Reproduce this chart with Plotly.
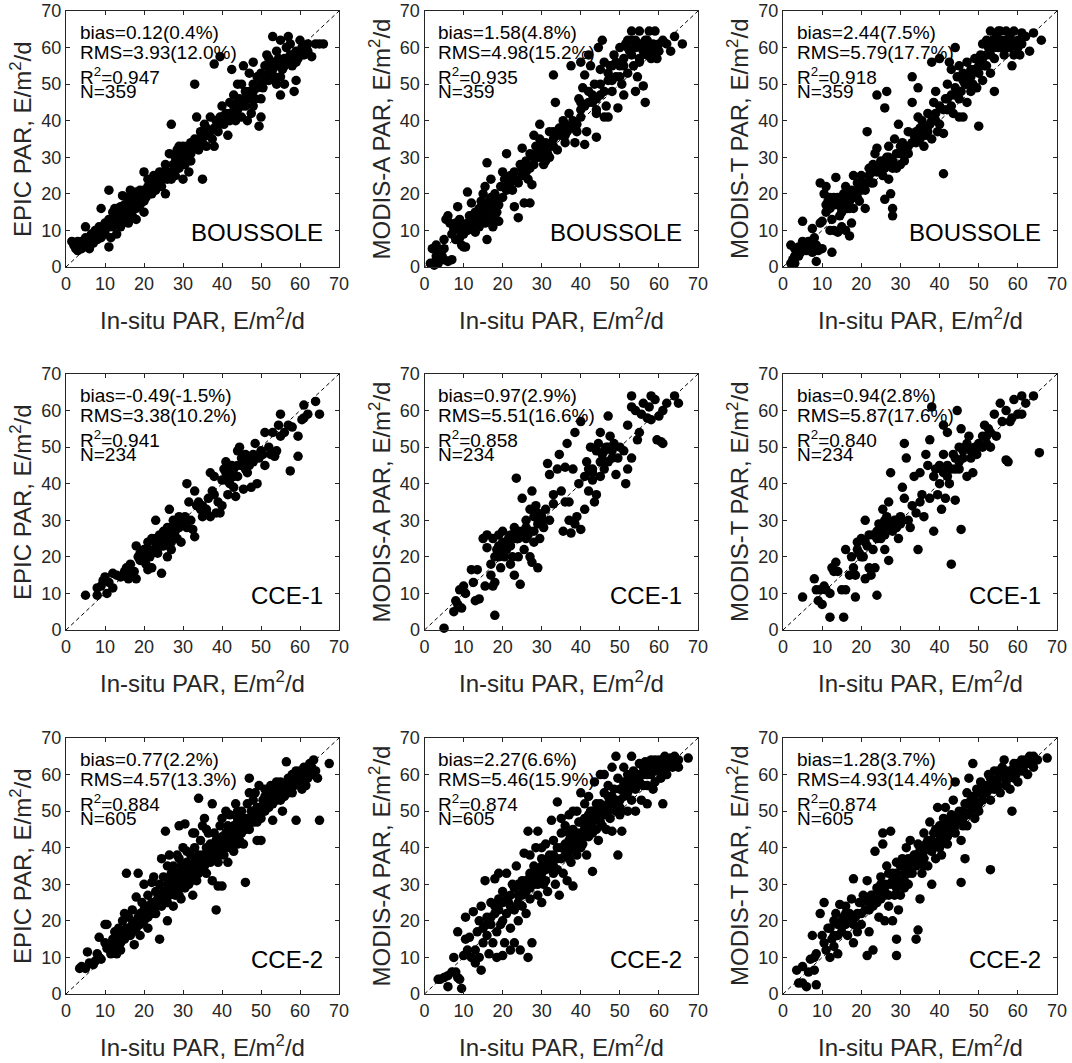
import plotly.graph_objects as go

# ---------------- data ----------------
sites = ["BOUSSOLE", "CCE-1", "CCE-2"]
products = ["EPIC", "MODIS-A", "MODIS-T"]

bias_text = [["0.12(0.4%)", "1.58(4.8%)", "2.44(7.5%)"],
             ["-0.49(-1.5%)", "0.97(2.9%)", "0.94(2.8%)"],
             ["0.77(2.2%)", "2.27(6.6%)", "1.28(3.7%)"]]
rms_text = [["3.93(12.0%)", "4.98(15.2%)", "5.79(17.7%)"],
            ["3.38(10.2%)", "5.51(16.6%)", "5.87(17.6%)"],
            ["4.57(13.3%)", "5.46(15.9%)", "4.93(14.4%)"]]
r2_text = [["0.947", "0.935", "0.918"],
           ["0.941", "0.858", "0.840"],
           ["0.884", "0.874", "0.874"]]
n_text = ["359", "234", "605"]

tick_vals = [0, 10, 20, 30, 40, 50, 60, 70]

EPIC_BOUSSOLE = [(1.5,7),(2,6),(2.5,5),(3,7),(3,4.5),(3.5,6),(4,7),(4.5,5.5),(5,8),(5,11),(5.5,6),(6,5),(6,7),(6.5,9),(7,6.5),(7.5,10),(8,7.5),(8,9.5),(8.5,11),(9,8),(9,16),(9.5,10),(10,9),(10,12),(10.5,11),(11,5.5),(11,21),(11,13),(11.5,8),(12,15),(12,11),(12.5,16),(13,12),(13,9),(13.5,14),(14,11),(14,16.5),(14.5,19.5),(15,13),(15,17),(15.5,15),(16,19),(16,12),(16.5,21),(17,14),(17,18),(17.5,20),(18,16),(18,13),(18.5,20),(19,17),(19.5,19),(20,15),(20,26),(20.5,19),(21,22),(21.5,20),(22,23),(22.5,25),(23,21),(23.5,24),(24,23),(24.5,22),(25,24),(25.5,20),(25.5,28),(26,26),(26.5,31),(27,24),(27,39),(27.5,28),(28,30),(28,25),(28.5,32),(29,27),(29.5,30),(30,33),(30,24),(30.5,28),(31,31),(31.5,26),(32,34),(32,29),(33,35),(33,50),(33.5,41),(34,32),(34.5,37),(35,24),(35,35.5),(35.5,39),(36,33),(36.5,36),(37,41),(37.5,35),(38,55.5),(38,33),(38.5,40),(39,37),(39.5,57.5),(39.5,41),(40,44),(40.5,39),(41,42),(41.5,36),(42,45),(42,40),(42.5,54),(43,44),(43.5,40),(44,43),(44.5,46),(45,41),(45,50),(45.5,55),(46,44),(46.5,40),(47,48),(47,53),(47.5,42),(48,56),(48,50),(48.5,46),(49,52),(49.5,38.5),(50,41),(50,53),(50.5,49),(51,55),(51.5,58),(52,51),(52.5,54),(53,56),(53,63),(53.5,52),(54,59),(54,50),(54.5,57),(55,47),(55,62),(55.5,54),(56,57),(56,50),(56.5,60),(57,56),(57,63),(57.5,58),(58,55),(58.5,48),(59,51),(59,59),(59.5,57),(60,62),(61,58),(62,61),(63,57.5),(64,61),(65,61),(66,61),(60.5,60),(57.5,61),(52,57),(48,44),(44,50),(43,47),(36,38),(32,31),(29,33),(24,26),(22,20),(19,21),(14,14),(12,13),(8,8),
                 (3,6),(4,5),(5,6.5),(6,8),(7,8),(9,10.5),(10,10),(11,11),(12,12),(13,13),(13,15),(14,13),(15,15),(16,15),(16,17),(17,16),(17,20),(18,18),(18,20.5),(19,18),(20,18),(20,21),(21,20),(21,24),(22,21),(23,23),(24,24),(25,26),(26,24),(27,26),(28,27),(29,29),(29,31),(30,30),(31,29),(31,33),(32,32),(33,33),(34,35),(35,34),(36,36),(37,37),(38,38),(39,39),(40,41),(41,40),(42,42),(43,42),(44,45),(45,44),(46,46),(47,46),(48,48),(49,49),(50,50),(51,51),(52,53),(53,54),(54,55),(55,56),(56,55),(57,57),(58,58),(59,56),(60,58),(61,60),(62,59),(55,52),(52,55),(50,46),(46,48)]

MODISA_BOUSSOLE = [(1.5,1),(2,5),(2.5,0.5),(3,2),(3,6),(3.5,1),(4,2.5),(4.5,3),(5,7.5),(5,2),(5.5,13),(6,14),(6,1.5),(7,2),(6.5,12),(7,9),(7.5,10.5),(8,12),(8.5,16.5),(9,8),(9,13),(9.5,6),(10,5.5),(10,11),(10.5,5.5),(11,20.5),(11,10),(11.5,14),(12,12.5),(12,17.5),(12.5,11),(13,15),(13,9.5),(13.5,13),(14,16),(14,11),(14.5,18),(15,14),(15,20),(15.5,22),(15.5,12),(16,28.5),(16,7.5),(16,16),(16.5,18),(17,13),(17,24),(17.5,11),(18,16),(18,20),(18.5,15),(19,12.5),(19.5,22),(20,19),(20,26),(20.5,24),(21,31),(21,21),(21.5,22),(22,25),(22.5,21),(23,26),(23,16.5),(24,13.5),(24,23),(24.5,28),(25,32.5),(25,25),(25.5,17.5),(26,29),(26.5,24),(27,17.5),(27,31),(27.5,22.5),(28,36),(28,28),(28.5,33),(29,30),(29.5,35),(29.5,39),(30,32),(30.5,28),(31,34),(31.5,31),(32,37),(32,30),(33,35),(33,52.5),(33.5,45),(34,32),(34.5,38),(35,36),(35.5,40),(36,34),(36.5,37),(37,42),(37.5,55),(38,38),(38.5,34),(39,37),(39.5,46),(40,43),(40,56),(40.5,49),(41,33.5),(41,52.5),(41.5,37),(42,45),(42,58),(42.5,55),(43,45),(43.5,50),(44,35.5),(44,42),(44.5,60),(45,47),(45,54),(45.5,62),(46,41),(46.5,44),(47,51),(47,41),(47.5,55),(48,48),(48.5,58),(49,52),(49.5,43.5),(50,60),(50,55),(50.5,50),(51,57),(51.5,61),(52,53),(52.5,59),(53,62),(53,64.5),(53.5,55),(54,48),(54,60),(54.5,52),(55,64.5),(55,57),(55.5,60),(56,49.5),(56.5,45),(56.5,62),(57,58),(57.5,64.5),(58,57),(58.5,61),(59,60.5),(59,64.5),(59.5,57),(60,59),(61,62),(62,61),(63,59),(64,63),(66,61),(46,56),(51,47),(44,43),(40,41),(36,39),(31,29),(26,26),(22,23),(18,18),(14,14),(8,7.5),
                   (3,3),(4,4),(5,5),(9,10),(10,9),(11,12),(12,14),(13,12),(14,13),(15,15),(15,17),(16,14),(17,16),(17,19),(18,14),(19,17),(20,22),(21,23),(22,24),(23,24),(25,27),(26,28),(27,27),(28,30),(29,32),(30,30),(30,34),(31,32),(32,33),(33,33),(33,37),(34,36),(35,38),(36,36),(37,38),(38,40),(39,39),(40,45),(41,44),(42,48),(43,47),(44,46),(45,50),(46,48),(47,53),(48,51),(48,55),(49,56),(50,52),(51,55),(52,60),(53,58),(54,62),(55,61),(56,59),(57,60),(58,59),(59,58),(60,61),(52,62),(55,56),(57,62)]

MODIST_BOUSSOLE = [(2,6),(2,1),(2.5,2),(3,5),(3,1),(3.5,4),(4,5.5),(4.5,4),(5,12.5),(5,7),(5.5,6),(6,4.5),(6.5,7),(7,6),(7.5,10.5),(7.5,4),(8,5),(8,8),(8.5,1.5),(8.5,6),(9,4.5),(9.5,23),(9.5,12),(10,12.5),(10,5),(10.5,20),(11,22),(11,15),(11.5,18),(12,16),(12,10),(12.5,4),(12.5,13),(13,19),(13,10),(13.5,24.5),(14,17),(14,9.5),(14.5,14),(15,18),(15,11),(15.5,20),(16,10),(16,22),(16.5,16),(17,18),(17,8.5),(17.5,21),(17.5,12),(18,25),(18,16),(18.5,20),(19,23),(19.5,18),(20,25),(20,21),(21,23),(21,16),(21.5,37),(22,27),(22.5,23),(23,26),(23.5,31),(24,47),(24,32.5),(24.5,28),(25,26),(25.5,25),(26,43.5),(26,18.5),(26.5,48),(26.5,30),(27,33),(27,24),(27.5,20),(28,14),(28,16),(28,29),(28.5,35),(29,27),(29.5,39),(30,31),(30,28),(30.5,34),(31,29),(31.5,33),(32,37),(32,31),(33,45),(33,52),(33.5,36),(34,34),(34.5,49),(34.5,41),(35,38),(35.5,40),(36,33),(36.5,36),(37,42),(37.5,39),(38,56),(38,35),(38.5,45),(39,48),(39.5,37),(40,57),(40,44),(41,36.5),(41,25.5),(41.5,46),(42,50),(42,43),(42.5,56),(43,54),(43.5,42),(44,47),(44,60),(44.5,52),(45,41),(45,55),(45.5,48),(46,53),(46,41),(46.5,50),(47,56),(47,45),(47.5,52),(48,54),(48.5,50),(49,57),(49.5,49),(50,38.5),(50,53),(50.5,58),(51,61),(51.5,55),(52,58),(52.5,60),(53,64.5),(53,53),(53.5,62),(54,48),(54,57),(54.5,63),(55,60),(55.5,64.5),(56,62),(56.5,58),(57,64.5),(57.5,60),(58,63),(58.5,55),(59,61),(59,64.5),(60,62),(60.5,58),(61,64),(62,63),(63,59),(64,64),(66,62),(51,51),(48,48),(43,44),(39,40),(35,35),(31,32),(27,28),(23,23),(19,19),(15,16),
                   (3,3),(4,3),(5,5),(6,6),(7,7),(11,17),(12,19),(13,17),(14,19),(15,15),(16,18),(16,20),(17,16),(18,19),(19,21),(20,23),(21,21),(22,25),(23,28),(24,26),(25,29),(26,27),(27,30),(28,27),(29,31),(30,33),(31,31),(32,33),(33,34),(34,37),(35,36),(36,38),(37,37),(38,40),(39,42),(40,39),(41,43),(42,46),(43,47),(44,49),(45,46),(46,51),(47,50),(48,52),(49,54),(50,55),(51,57),(52,55),(53,58),(54,60),(55,62),(56,60),(57,62),(58,60),(59,58),(60,60),(61,61),(53,61),(55,64.5),(52,62)]

EPIC_CCE1 = [(5,9.5),(8,9.5),(8,11.5),(9,12),(9.5,13.5),(10,14.5),(10.5,10),(11,13),(12,11.5),(12,15.5),(13,15),(14,14.5),(15,16),(15.5,17),(16,14),(16.5,18),(17,15),(17.5,16),(18,23),(18,14),(18.5,20),(19,21),(19.5,19),(20,22),(20.5,18),(21,16.5),(21,24),(21.5,20),(22,25),(22,17),(22.5,22),(23,30),(23,24),(23.5,21),(24,26),(24.5,15.5),(24.5,23),(25,27),(25.5,25),(26,28),(26,20),(26.5,33),(27,26),(27,22),(27.5,30),(28,28),(28.5,25),(29,31),(29.5,24),(30,29),(30.5,31),(31,40),(31,28),(31.5,35),(32,30),(32.5,27.5),(33,38),(33,25.5),(33.5,34),(34,35),(34.5,33),(35,31),(36,32),(36.5,36),(37,43),(37,31),(37.5,38),(38,42),(38.5,32),(39,35),(39.5,32),(40,34),(40.5,44),(41,46),(41,41),(41.5,37),(42,40),(42.5,45),(43,44),(43,39),(43.5,36.5),(44,49),(44,42),(44.5,50),(45,45),(45.5,38.5),(46,46),(46.5,43),(47,47),(47.5,39),(48,48),(48.5,51),(49,40),(49.5,47),(50,49),(50.5,48),(51,54),(51,45),(52,50),(52.5,48),(53,54),(53.5,47.5),(54,49),(54.5,56),(55,53),(55,59),(56,54),(57,56),(57.5,43.5),(58,55.5),(59.5,53),(59.5,47.5),(60.5,57.5),(61,61.5),(61,58),(62,59),(64,62.5),(65,59),(38,37),(29,28),(20,20),(46,44),(41,43),
             (19,19),(20,21),(21,22),(22,21),(23,25),(24,24),(25,26),(26,26),(27,28),(28,27),(29,29),(30,30),(23,22),(25,23),(27,24),(41,44),(42,43),(43,42),(44,45),(45,47),(46,48),(47,45),(48,46),(36,33),(35,34),(40,41)]

MODISA_CCE1 = [(5,0.5),(7.5,5),(8,8),(8.5,7),(9,11),(9.5,6),(10,12),(10.5,10),(12,16.5),(12.5,13),(13,8),(13.5,16.5),(14,8.5),(15,25),(15.5,12),(16,26),(16,22.5),(17,18),(17,15),(17.5,12),(17.5,25),(18,4),(18,13),(18,20),(18.5,22),(19,26),(19,20),(19.5,17),(20,27),(20,22),(20.5,20),(21,24),(21.5,25),(22,18),(22,23),(22.5,20),(23,15),(23,28),(23.5,41.5),(24,25),(24,20),(24.5,12.5),(25,27),(25,36),(25.5,22),(26,30),(26,25),(26.5,26),(27,33),(27,20),(27.5,18.5),(27.5,38),(28,31),(28,24),(28.5,34),(29,29),(29,17),(29.5,25),(30,31),(30.5,28),(31,33),(31.5,45.5),(32,30),(32,42.5),(33,37),(33,34.5),(34,44),(34.5,48),(35,38),(35.5,27),(36,44.5),(36.5,51),(37,30),(37,35),(37.5,26.5),(38,44),(38.5,54),(38.5,29),(39,31),(39.5,40),(40,57),(40,27.5),(41,33),(41,42),(41.5,46),(42,38),(42.5,50),(43,44),(43.5,35),(44,37),(44.5,51),(45,42),(45,54),(45.5,48),(46,44),(46.5,50),(47,58.5),(47,46),(47.5,53),(48,49),(48.5,51),(49,42.5),(49.5,47),(50,50),(51,49),(51.5,40),(52,44),(52,56),(53,47),(53,61),(53,64),(54,60),(54.5,52),(55,54),(55.5,59),(56,62),(57,58),(57.5,61),(58,64),(58,57.5),(59,63),(59.5,52),(60,58.5),(60.5,51.5),(61,51),(61,60),(62,62),(64,64),(65,62),(43,43),(36,35),(30,29),(26,26),(20,21),(46,46),
               (19,23),(21,22),(23,25),(24,27),(25,26),(26,28),(27,27),(28,27),(29,32),(30,30),(22,26),(20,24),(44,49),(45,46),(46,49),(47,50),(48,47),(42,44),(43,41)]

MODIST_CCE1 = [(5,9),(8,14),(8.5,11),(9,8),(9.5,11),(10,7),(10.5,12),(11,11),(12,10),(12,3.5),(12.5,17),(13,16),(13.5,18.5),(14,16),(15,11),(15.5,3.5),(16,11),(16,22),(17,15),(17.5,20),(18,17),(18.5,9),(18.5,15),(19,24),(19.5,21),(20,25),(20.5,20),(21,30),(21,14),(21.5,23),(22,26),(22,17),(22.5,15),(23,22),(23.5,17),(24,9.5),(24,25),(24.5,29),(25,26),(25.5,33),(26,28),(26,22),(26.5,31),(27,35),(27,19),(27.5,43),(28,27),(28.5,30),(29,28),(29.5,25),(30,31),(30.5,39),(31,36),(31,51),(31.5,47),(32,30),(32.5,28),(33,34),(33.5,42),(34,32),(34.5,22),(35,43),(35.5,37),(36,31),(36.5,48),(37,45),(37.5,36),(37.5,52),(38,61),(38.5,27),(38.5,42),(39,44),(39.5,37),(40,45),(40.5,33),(41,56),(41,48),(41.5,36),(42,42),(42,54),(42.5,40),(43,18),(43.5,48),(44,35.5),(44,44),(44.5,60),(45,50),(45.5,27.5),(45.5,55),(46,47),(46.5,50),(47,42),(47.5,53),(48,47),(48.5,43),(49,50),(49.5,48),(50,51),(51,50),(51.5,56),(52,53),(52.5,55),(53,50),(54,59),(54.5,53),(55.5,62),(56,57),(57,46.5),(57.5,46),(57,60),(58,57),(58.5,58),(59,63),(60,59),(61,64),(61,59),(62,62),(64,64),(65.5,48.5),(45,44),(40,40),(35,35),(30,30),(25,25),(20,20),
               (19,22),(21,24),(23,26),(24,27),(25,28),(26,26),(27,29),(28,29),(29,30),(30,29),(26,30),(41,43),(42,45),(43,44),(44,47),(45,46),(46,49),(47,51),(48,49),(50,50),(51,53),(52,51),(53,54)]

EPIC_CCE2 = [(3.5,7),(4,7.5),(5,7),(5.5,11.5),(6,8.5),(7,8),(7.5,9),(8,11),(8.5,10),(8.5,15.5),(9,9.5),(10,14),(10,19),(10.5,19),(10.5,12.5),(11,13),(11.5,11),(12,15),(12,12.5),(12.5,17),(13,14),(13,11),(13.5,18),(14,16),(14,12),(14.5,20),(15,15),(15,22),(15.5,33),(15.5,18),(16,21),(16.5,16),(17,19),(17,23),(17.5,13.5),(18,26.5),(18,18),(18.5,33),(18.5,21),(19,22),(19,16),(19.5,25),(20,30),(20,20),(20.5,24),(21,27),(21,18),(21.5,22),(22,30.5),(22,25),(22.5,32),(23,28),(23,22),(23.5,26),(24,15),(24,30),(24.5,24),(24.5,37),(25,28),(25,32),(25.5,44.5),(25.5,25),(26,30),(26,20),(26.5,38),(26.5,27),(27,33),(27,29),(27.5,35),(27.5,24),(28,31),(28,27),(28.5,38),(28.5,33),(29,29),(29,46),(29.5,35),(29.5,26),(30,32),(30,40),(30.5,46.5),(30.5,29),(31,34),(31,36),(31.5,30),(32,38),(32,33),(32.5,44),(32.5,27),(33,35),(33,40),(33.5,31),(34,53.5),(34,37),(34,33),(34.5,42),(35,46),(35,38),(35.5,48),(35.5,35),(36,40),(36,33),(36.5,44),(37,37),(37,41),(37.5,52),(37.5,31),(38,38),(38,44),(38.5,23),(38.5,42),(39,29.5),(39,36),(39.5,46),(39.5,40),(40,29.5),(40,43),(40.5,38),(41,50),(41,40),(41.5,46),(41.5,36),(42,44),(42,49),(42.5,41),(43,46),(43,39),(43.5,52),(44,44),(44,48),(44.5,42),(45,50),(45,46),(45.5,41),(46,30.5),(46,48),(46.5,52),(47,45),(47,59),(47.5,50),(48,53),(48,47),(48.5,55),(49,42),(49,51),(49.5,57),(50,48),(50,42),(50.5,53),(51,56),(51,50),(52,54),(52,51),(52.5,57),(53,52),(53,47.5),(53.5,56),(54,58),(54,53),(55,55),(55,58),(55.5,50),(56,57),(56.5,63.5),(57,59),(57.5,56),(58,60),(58.5,57),(59,47.5),(59,61),(59.5,58),(60,60),(60.5,56),(61,62),(61,59),(61.5,57),(62,61),(62.5,63),(63,60),(63.5,64),(64,61),(64.5,59),(65,47.5),(67.5,63),(27,30),(33,33),(36,36),(40,40),(44,45),(48,50),(23,24),(19,20),(16,16),(12,13),(20,21),(21,23),(22,22),(24,26),(25,25),(26,27),(27,28),(28,29),(29,31),(30,30),(31,32),(32,31),(33,36),(34,35),(35,36),(36,38),(37,39),(38,40),(39,41),(40,39),(41,42),(42,42),(43,43),(44,41),(45,44),(46,45),(47,48),(49,47),(51,52),(53,55),(57,55),(58,58),(60,58),(62,59),(56,54),(54,55),
             (14,14),(15,17),(16,18),(17,17),(18,20),(19,19),(20,23),(21,21),(22,24),(23,25),(24,27),(25,27),(26,25),(27,31),(28,33),(29,27),(30,34),(31,30),(32,35),(33,32),(34,38),(35,34),(36,37),(37,36),(38,41),(39,38),(40,42),(41,44),(42,40),(43,45),(44,47),(45,48),(46,46),(47,47),(48,49),(49,50),(50,51),(51,54),(52,52),(53,53),(54,56),(55,53),(56,56),(57,58),(58,55),(59,59),(60,61),(61,60),(62,62),(63,62),(29,37),(31,39),(26,35),(33,44),(36,45),(40,48),(44,50),(47,55)]

MODISA_CCE2 = [(3.5,4),(4,4),(5,4.5),(6,2),(6,5),(7,6),(7.5,10),(8,6),(8.5,17),(8.5,4.5),(9,4),(9.5,1.5),(10,10.5),(10.5,21),(10.5,15),(11,12),(11.5,15.5),(12,10),(12.5,22.5),(13,8.5),(13,12),(13.5,17),(14,10),(14,20),(14.5,6.5),(14.5,24),(15,14),(15,18),(15.5,31),(16,21),(16,16),(16.5,11),(17,25),(17,19),(17.5,14),(18,31.5),(18,22),(18.5,10),(18.5,17),(19,26),(19,33),(19.5,19),(20,10.5),(20,28),(20.5,14),(21,22),(21,33),(21.5,25),(22,12),(22,18),(22.5,30),(23,23),(23,14),(23.5,35),(24,27),(24,20),(24.5,12),(25,24),(25,31),(25.5,38.5),(26,28),(26,22),(26.5,44.5),(26.5,10),(27,33),(27,26),(27.5,14),(28,30),(28,35),(28.5,40),(29,27),(29,44.5),(29.5,32),(30,25),(30,37),(30.5,30),(31,41),(31,34),(31.5,28),(32,38),(32.5,47.5),(33,33),(33,42),(33.5,30),(34,52.5),(34,37),(34.5,27),(35,44),(35,40),(35.5,33),(36,46),(36,38),(36.5,31),(37,42),(37,49),(37.5,36),(38,29.5),(38,45),(38.5,40),(39,50),(39,38),(39.5,47),(40,44),(40,55),(40.5,41),(41,48),(41,52),(41.5,38),(42,54),(42,46),(42.5,50),(43,33.5),(43,44),(43.5,58),(44,48),(44,52),(44.5,42),(45,60),(45,50),(45.5,46),(46,55),(46,60),(46.5,45),(47,52),(47,57),(47.5,48),(48,62),(48,44.5),(48.5,56),(49,65),(49,50),(49.5,38),(49.5,59),(50,53),(50.5,44.5),(51,57),(51,62),(52,55),(52,50),(52.5,59),(53,65),(53,53),(53.5,61),(54,56),(54,50),(55,58),(55,63),(55.5,53),(56,60),(56.5,63.5),(57,57),(57,52),(57.5,62),(58,60),(58.5,56),(59,64),(59,58),(59.5,61),(60,63),(60.5,59),(61,52),(61,62),(61.5,65),(62,60),(62.5,63),(63,64.5),(63.5,62),(64,65),(65,64),(65,62),(67.5,64.5),(25,27),(29,30),(33,35),(37,39),(41,43),(45,47),(50,49),(21,26),(22,24),(24,25),(26,29),(27,29),(28,32),(30,33),(31,31),(32,35),(34,34),(34,40),(36,41),(37,37),(38,41),(39,42),(40,40),(41,45),(42,43),(43,47),(44,45),(46,49),(47,50),(48,52),(50,51),(51,54),(52,57),(54,58),(56,57),(58,62),(60,61),(62,62),(17,21),(19,23),
               (20,25),(22,27),(23,29),(24,30),(25,29),(26,31),(27,32),(28,33),(29,34),(30,35),(31,36),(32,36),(33,38),(35,37),(36,40),(37,44),(38,43),(39,44),(40,47),(41,46),(42,49),(43,50),(44,50),(45,52),(46,51),(47,54),(48,54),(49,53),(50,56),(51,58),(52,60),(53,57),(54,60),(55,60),(56,62),(57,60),(58,64),(59,62),(60,64),(61,64),(62,64),(63,63),(64,63),(16,19),(18,24),(20,20),(27,38),(30,40),(35,48),(38,50)]

MODIST_CCE2 = [(3.5,6.5),(4,3),(5,7.5),(5,3),(6,2),(6.5,6),(7,9.5),(7.5,16),(8,10),(8,6.5),(8.5,2.5),(8.5,11),(9.5,22),(10,16),(10.5,25),(10.5,14),(11,12),(11.5,18),(12,10),(12.5,15),(13,20),(13,13),(13.5,22),(14,16),(14,11),(14.5,24.5),(15,17),(15.5,21),(16,24),(16.5,16),(17,20),(17.5,26),(18,31.5),(18,14),(18.5,21),(19,17),(19.5,25),(20,19),(20.5,27),(21,23),(21.5,10.5),(21.5,31),(22,17),(22.5,27),(23,12),(23,24),(23.5,39),(24,29),(24.5,21),(25,32),(25,26),(25.5,44),(25.5,41),(26,28),(26,20),(26.5,35),(27,30),(27,24),(27.5,44.5),(28,33),(28,20),(28.5,27),(29,10.5),(29,15),(29,36),(29.5,23),(30,31),(30,27),(30.5,37),(31,33),(31,29),(31.5,40),(32,35),(32,30),(32.5,42),(33,33),(33.5,38),(34,15),(34,36),(34.5,17.5),(34.5,41),(35,26),(35,39),(35.5,33),(36,44),(36,37),(36.5,41),(37,35),(37.5,47),(38,40),(38,30),(38.5,44),(39,37),(39.5,51),(40,42),(40,46),(40.5,38),(41,48),(41,44),(41.5,51),(42,41),(42.5,46),(43,49),(43.5,53),(44,44),(44,58),(44.5,47),(45,50),(45.5,42),(45.5,30.5),(46,48),(46.5,37),(46.5,52),(47,55),(47,46),(47.5,59),(48,50),(48.5,63),(48.5,54),(49,48),(49.5,56),(50,52),(50.5,58),(51,55),(52,57),(52.5,60),(53,34),(53,53),(53.5,58),(54,61),(54,56),(55,59),(55.5,55),(56,62),(56.5,64),(57,58),(57.5,60),(58,56),(58.5,50),(58.5,61),(59,63),(59.5,60),(60,58),(60.5,62),(61,64),(61.5,61),(62,63),(62.5,60),(63,64.5),(64,62),(64,65),(65,64),(67.5,64.5),(26,27),(30,31),(34,35),(38,39),(42,43),(46,46),(50,50),(22,23),(18,19),(20,22),(23,26),(24,25),(25,28),(27,27),(28,30),(29,29),(31,35),(32,33),(33,36),(35,36),(36,39),(37,40),(39,41),(40,40),(41,42),(43,45),(44,46),(45,47),(47,49),(48,52),(49,51),(51,53),(53,56),(55,57),(57,57),(59,59),(61,61),(63,63),(16,19),(14,19),
               (15,20),(17,22),(19,22),(20,25),(21,26),(22,25),(23,27),(24,27),(25,30),(26,30),(27,33),(28,31),(29,33),(30,35),(31,31),(32,37),(33,35),(34,38),(35,40),(36,35),(37,42),(38,42),(39,45),(40,44),(41,46),(42,47),(43,47),(44,48),(45,49),(46,50),(47,52),(48,53),(49,53),(50,55),(51,56),(52,55),(53,59),(54,57),(55,61),(56,60),(57,61),(58,61),(59,62),(60,63),(61,62),(62,64),(63,65),(12,18),(13,16),(16,22)]

panel_points = [[EPIC_BOUSSOLE, MODISA_BOUSSOLE, MODIST_BOUSSOLE],
                [EPIC_CCE1, MODISA_CCE1, MODIST_CCE1],
                [EPIC_CCE2, MODISA_CCE2, MODIST_CCE2]]

# ---------------- layout geometry ----------------
W, H = 1072, 1063
col_px = [(66, 339), (424.5, 698), (783, 1057)]
row_px = [(11, 267), (374, 630), (738, 994)]

FONT = "Liberation Sans, Arial, Helvetica, sans-serif"
AX_COLOR = "#262626"

fig = go.Figure()
annotations = []
layout = dict(width=W, height=H, margin=dict(l=0, r=0, t=0, b=0, autoexpand=False),
              paper_bgcolor="white", plot_bgcolor="white", showlegend=False,
              font=dict(family=FONT, color="black"))

for r in range(3):
    for c in range(3):
        k = r * 3 + c + 1
        xn = "x" if k == 1 else f"x{k}"
        yn = "y" if k == 1 else f"y{k}"
        pts = panel_points[r][c]
        xs = [p[0] for p in pts]
        ys = [p[1] for p in pts]
        fig.add_trace(go.Scatter(x=[0, 70], y=[0, 70], mode="lines",
                                 line=dict(color="black", width=1, dash="4px,3px"),
                                 xaxis=xn, yaxis=yn, hoverinfo="skip"))
        fig.add_trace(go.Scatter(x=xs, y=ys, mode="markers",
                                 marker=dict(color="black", size=9.5, line=dict(width=0)),
                                 cliponaxis=False, xaxis=xn, yaxis=yn))
        x0, x1 = col_px[c]
        y0, y1 = row_px[r]
        axcommon = dict(range=[0, 70], tickvals=tick_vals, ticks="inside", ticklen=4,
                        tickcolor=AX_COLOR, showline=True, linecolor=AX_COLOR, linewidth=1,
                        mirror="ticks", showgrid=False, zeroline=False, automargin=False,
                        tickfont=dict(family=FONT, size=18, color=AX_COLOR), fixedrange=True)
        layout[f"xaxis{'' if k == 1 else k}"] = dict(domain=[x0 / W, x1 / W], anchor=yn, **axcommon)
        layout[f"yaxis{'' if k == 1 else k}"] = dict(domain=[1 - y1 / H, 1 - y0 / H], anchor=xn, **axcommon)

        xd = f"{xn} domain"
        yd = f"{yn} domain"
        stat_lines = [f"bias={bias_text[r][c]}", f"RMS={rms_text[r][c]}",
                      f"R<sup>2</sup>=" + r2_text[r][c], f"N={n_text[r]}"]
        # bottoms of the text boxes (fraction of the plot height)
        stat_y = [0.873, 0.794, 0.696, 0.641]
        for t, yy in zip(stat_lines, stat_y):
            annotations.append(dict(xref=xd, yref=yd, x=0.046, y=yy, text=t, showarrow=False,
                                    xanchor="left", yanchor="bottom", borderpad=0,
                                    font=dict(family=FONT, size=19, color="black")))
        annotations.append(dict(xref=xd, yref=yd, x=0.95, y=0.133, text=sites[r], showarrow=False,
                                xanchor="right", yanchor="middle",
                                font=dict(family=FONT, size=24, color="black")))
        annotations.append(dict(xref=xd, yref=yd, x=0.5, y=0, yshift=-52,
                                text="In-situ PAR, E/m<sup>2</sup>/d", showarrow=False,
                                xanchor="center", yanchor="middle",
                                font=dict(family=FONT, size=24, color=AX_COLOR)))
        annotations.append(dict(xref=xd, yref=yd, x=0, y=0.5, xshift=-45, textangle=-90,
                                text=f"{products[c]} PAR, E/m<sup>2</sup>/d", showarrow=False,
                                xanchor="center", yanchor="middle",
                                font=dict(family=FONT, size=24, color=AX_COLOR)))

layout["annotations"] = annotations
fig.update_layout(**layout)
fig.write_html("out.html", config={"displayModeBar": False},
               post_script="document.body.style.margin='0px';document.documentElement.style.overflow='hidden';")
